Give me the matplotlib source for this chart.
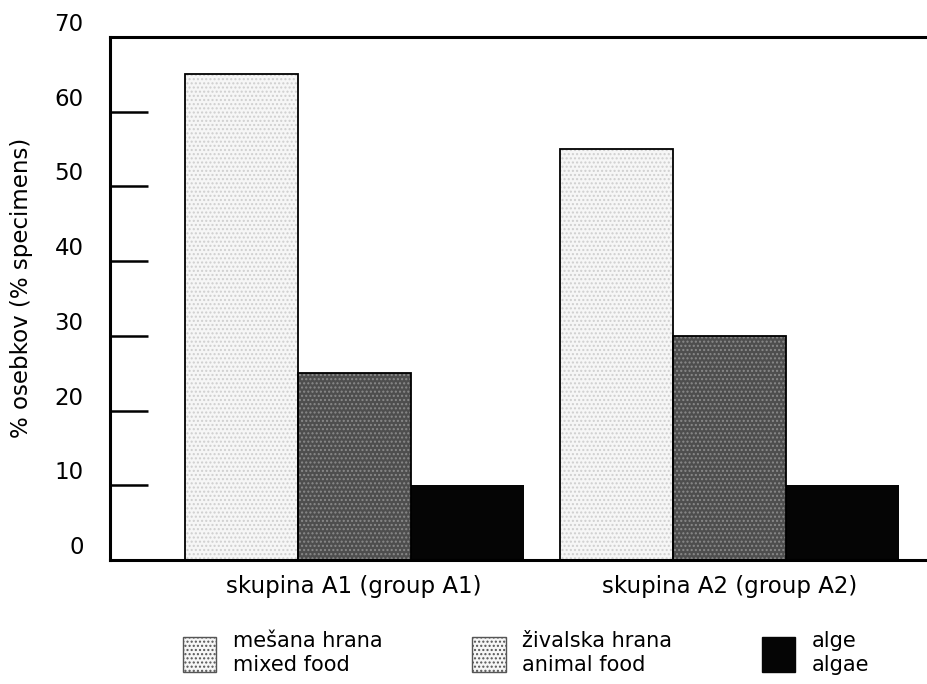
import numpy as np
import matplotlib
matplotlib.use("Agg")
import matplotlib.pyplot as plt
import matplotlib.transforms as mtransforms
from matplotlib.patches import Patch

# podatki (data)
groups = ["skupina A1 (group A1)", "skupina A2 (group A2)"]
mixed = [65, 55]
animal = [25, 30]
algae = [10, 10]
legend_labels = ["mešana hrana\nmixed food", "živalska hrana\nanimal food", "alge\nalgae"]
yticks = [0, 10, 20, 30, 40, 50, 60, 70]

plt.rcParams['font.family'] = ['DejaVu Sans']
plt.rcParams['font.size'] = 16.5

fig = plt.figure(figsize=(9.28, 6.84), dpi=100)
ax = fig.add_axes([110 / 928, 124 / 684, 835 / 928, 523 / 684])

x = np.arange(len(groups))
w = 0.301

# polnila (fills)
ax.bar(x - w, mixed, w, color="#f6f6f6", hatch="....", edgecolor="#cfcfcf", linewidth=0)
ax.bar(x, animal, w, color="#4e4e4e", hatch="....", edgecolor="#8a8a8a", linewidth=0)
ax.bar(x + w, algae, w, color="#050505", linewidth=0)
# robovi (edges)
ax.bar(x - w, mixed, w, fill=False, edgecolor="black", linewidth=1.3)
ax.bar(x, animal, w, fill=False, edgecolor="black", linewidth=1.3)

ax.set_xlim(-0.650, 1.574)
ax.set_ylim(0, 70)

ax.set_xticks(x)
ax.set_xticklabels(groups)
ax.tick_params(axis="x", length=0, pad=11)

ax.set_yticks(yticks)
ax.tick_params(axis="y", direction="in", length=27.5, width=1.8, pad=19)
offset = mtransforms.ScaledTranslation(0, 0.15, fig.dpi_scale_trans)
for lab in ax.get_yticklabels():
    lab.set_transform(lab.get_transform() + offset)

ax.set_ylabel("% osebkov (% specimens)")
ax.yaxis.set_label_coords(-0.092, 0.52)

for s in ["top", "left", "bottom", "right"]:
    ax.spines[s].set_linewidth(2.2)

handles = [
    Patch(facecolor="#f6f6f6", hatch="....", edgecolor="#555555", linewidth=1.0),
    Patch(facecolor="#f6f6f6", hatch="....", edgecolor="#555555", linewidth=1.0),
    Patch(facecolor="#050505", edgecolor="#050505", linewidth=1.0),
]
fig.legend(handles, legend_labels, ncol=3, loc="center left",
           bbox_to_anchor=(183 / 928, 1 - 653 / 684), frameon=False,
           borderpad=0, borderaxespad=0, fontsize=15,
           handlelength=1.6, handleheight=2.2,
           handletextpad=0.8, columnspacing=4.3, labelspacing=0.3)

fig.savefig("out.png", dpi=100)
